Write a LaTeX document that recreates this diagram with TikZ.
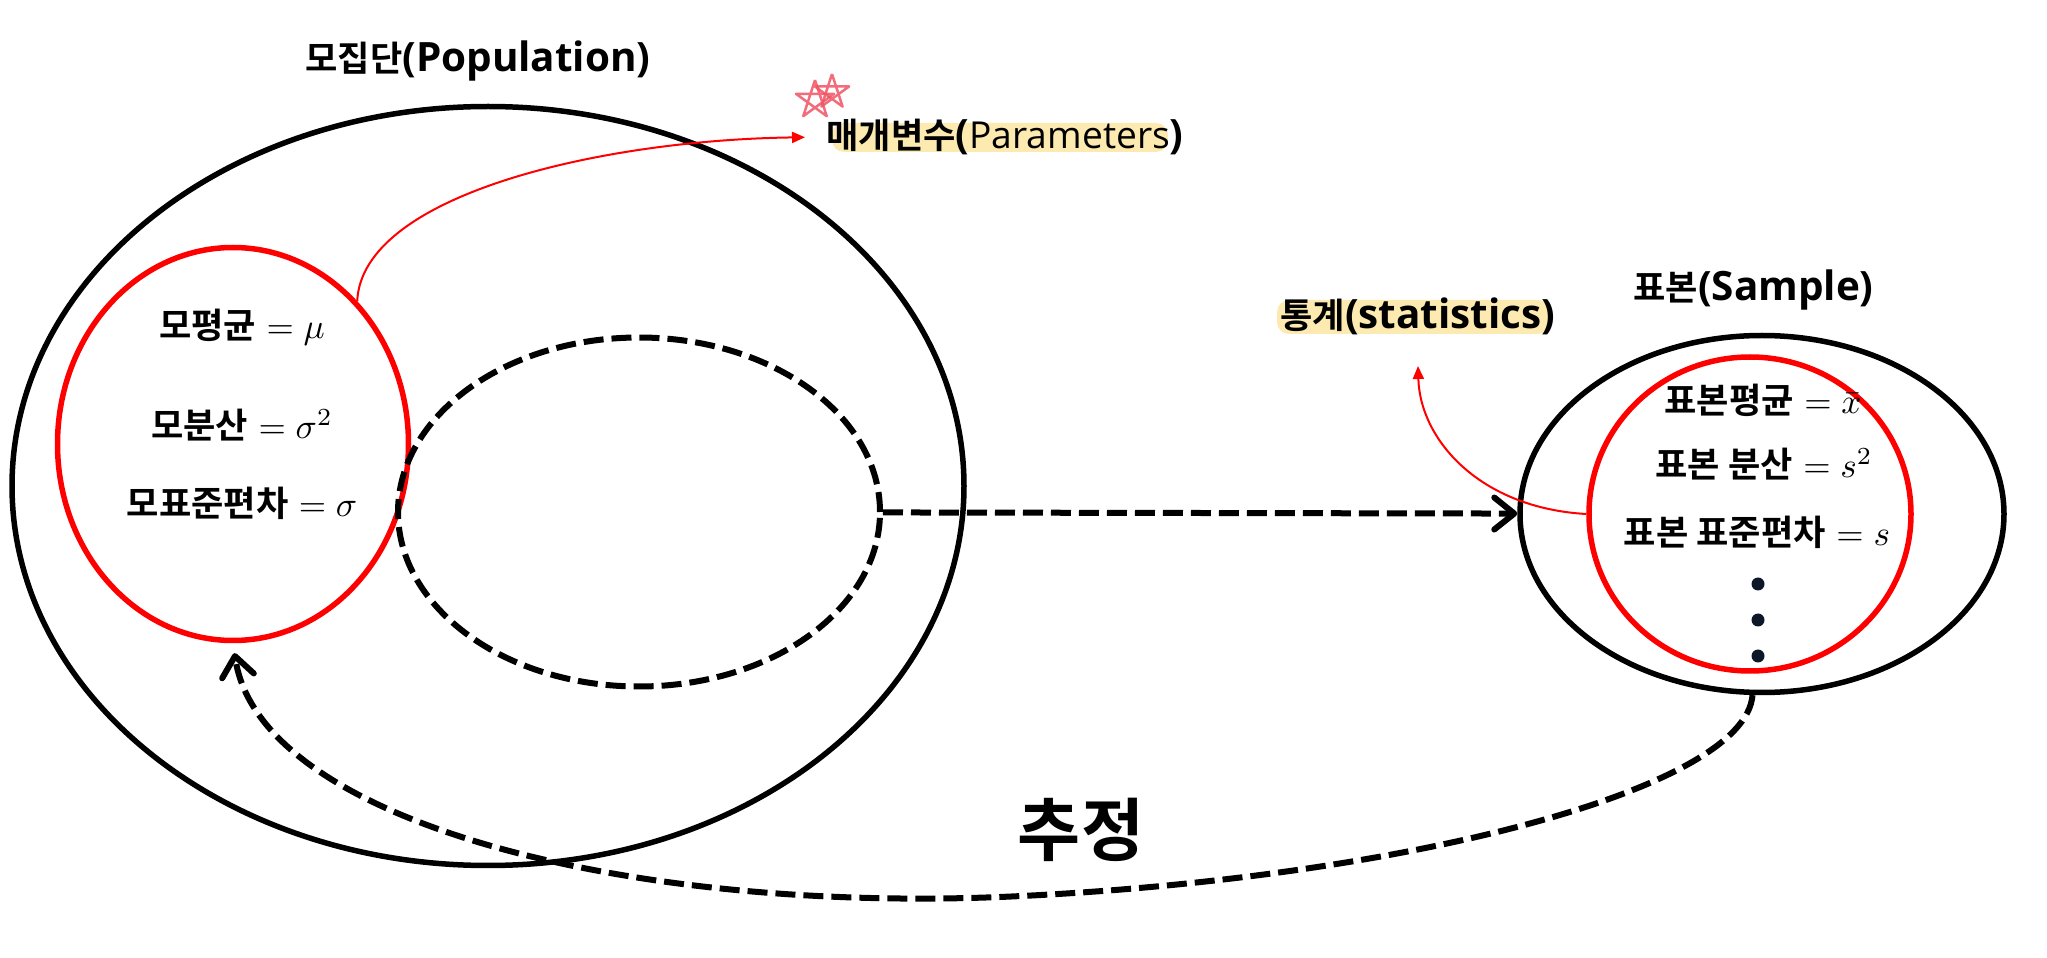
\documentclass[tikz,border=0pt]{standalone}
\usepackage{fontspec}
\setmainfont{Open Sans}[Scale=1.15]
\newfontfamily\kr{Noto Sans CJK KR}[BoldFont={Noto Sans CJK KR Bold}]
\usetikzlibrary{shapes.geometric, arrows.meta}
\definecolor{hlyellow}{RGB}{252,234,176}
\definecolor{scribble}{RGB}{240,84,100}
\definecolor{dotnavy}{RGB}{12,24,40}

\begin{document}
\begin{tikzpicture}[x=0.1mm, y=-0.1mm, thick,
    oval/.style = {draw, ellipse, inner sep=0, line width=0.55mm},
    redoval/.style = {oval, draw=red},
    dashline/.style = {line width=0.6mm, dash pattern=on 2mm off 0.8mm},
    barb/.style = {-{Straight Barb[length=2mm, width=3.2mm, round]}},
    lbl/.style = {inner sep=0, font=\fontsize{10}{12}\selectfont\bfseries},
    redarrow/.style = {red, line width=0.2mm, -{Triangle[length=1.3mm, width=1.1mm]}}]
    \useasboundingbox (0,0) rectangle (2047,958);
    % highlighter strokes
    \fill[hlyellow, rounded corners=1.2mm] (832,123) rectangle (1168,152);
    \fill[hlyellow, rounded corners=1.2mm] (1277,300) rectangle (1550,334);
    \foreach \cx/\cy/\r in {815/100/20, 832/92/18}
        \draw[scribble, line width=0.25mm, line join=round, opacity=0.85] plot[samples at={0,...,5}] ({\cx+\r*cos(-90+144*\x)}, {\cy+\r*sin(-90+144*\x)});
    % sets
    \node[oval, minimum width=95.2mm, minimum height=75.9mm] (1) at (488,486) {};
    \node[redoval, minimum width=35.1mm, minimum height=39.3mm] (2) at (233,444) {};
    \node[oval, dashline, minimum width=48.2mm, minimum height=34.9mm] (3) at (639,512) {};
    \node[oval, minimum width=48.4mm, minimum height=35.7mm] (4) at (1762,514) {};
    \node[redoval, minimum width=32.2mm, minimum height=31.4mm] (5) at (1750,514) {};
    % titles
    \node[lbl, anchor=west] (6) at (304,61) {{\kr 모집단}(Population)};
    \node[lbl, anchor=west] (7) at (825,137) {{\kr 매개변수}({\mdseries\fontsize{9.2}{11}\selectfont Parameters})};
    \node[lbl, anchor=west] (8) at (1279,316) {{\kr 통계}(statistics)};
    \node[lbl, anchor=west] (9) at (1632,290) {{\kr 표본}(Sample)};
    % parameters
    \node[lbl] (10) at (242,327) {{\kr 모평균} $=\mu$};
    \node[lbl] (11) at (242,425) {{\kr 모분산} $=\sigma^2$};
    \node[lbl] (12) at (242,503) {{\kr 모표준편차} $=\sigma$};
    % statistics
    \node[lbl] (13) at (1763,400) {{\kr 표본평균} $=\bar{x}$};
    \node[lbl] (14) at (1764,464) {{\kr 표본 분산} $=s^2$};
    \node[lbl] (15) at (1757,532) {{\kr 표본 표준편차} $=s$};
    \foreach \y [count=\i from 16] in {584,620,656}
        \node[circle, fill=dotnavy, inner sep=0, minimum size=1.3mm] (\i) at (1758,\y) {};
    \node[inner sep=0, font=\fontsize{19.5}{23}\selectfont\bfseries\kr] (19) at (1081,830) {추정};
    \coordinate (20) at (1418,366);
    % connectors
    \draw[dashline, barb] (3) -- (4);
    \draw[dashline, barb, shorten >=1mm] (4.267) .. controls (1745,790) and (1400,880) .. (1000,897) .. controls (620,912) and (260,820) .. (2.south);
    \draw[redarrow, shorten >=2mm] (2.49) .. controls (362,195) and (600,140) .. (7.west);
    \draw[redarrow] (5.west) .. controls (1480,508) and (1420,440) .. (20);
\end{tikzpicture}
\end{document}
